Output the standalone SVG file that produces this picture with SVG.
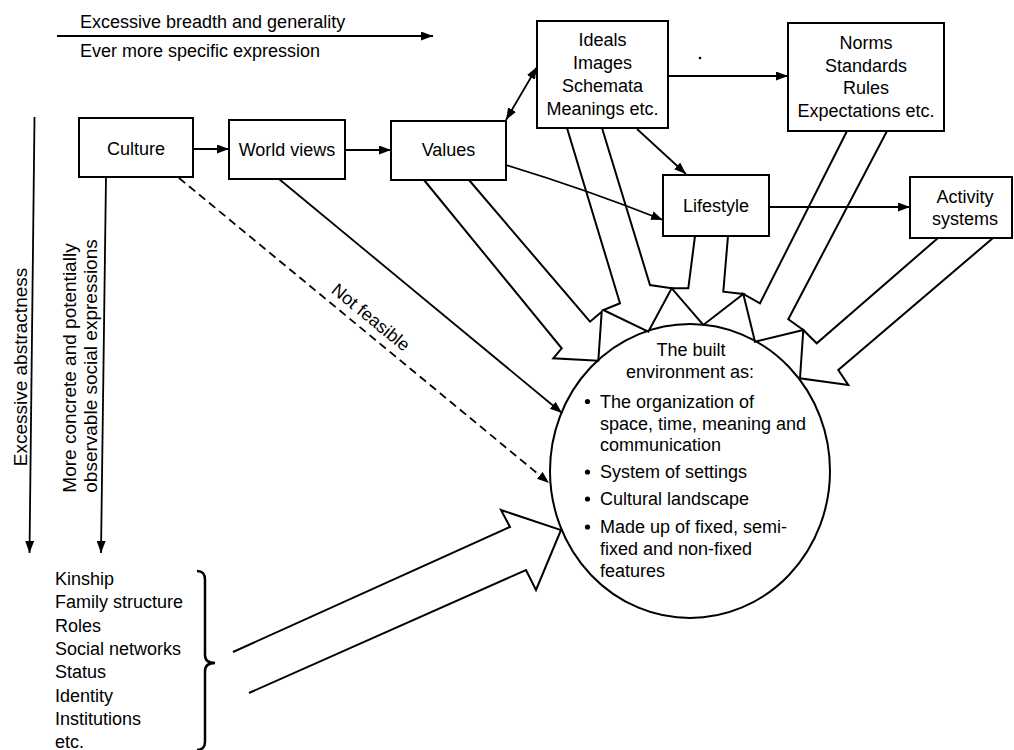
<svg xmlns="http://www.w3.org/2000/svg" width="1014" height="750" viewBox="0 0 1014 750">
<style>
.box{fill:#fff;stroke:#000;stroke-width:2}
.t{font-family:"Liberation Sans",Arial,Helvetica,sans-serif;font-size:18px;fill:#000}
.v{font-size:19px}
.m{text-anchor:middle}
.ln{stroke:#000;stroke-width:1.8;fill:none}
.big{stroke:#000;stroke-width:2;fill:none;stroke-linejoin:miter}
.dash{stroke-dasharray:8 5}
</style>
<defs>
<marker id="ah" markerUnits="userSpaceOnUse" markerWidth="13" markerHeight="10" refX="12" refY="4.5" orient="auto-start-reverse">
<path d="M0,0 L12,4.5 L0,9 Z" fill="#000"/>
</marker>
</defs>
<rect width="1014" height="750" fill="#fff"/>

<g id="labels">
<text class="t" x="80" y="28">Excessive breadth and generality</text>
<text class="t" x="80" y="57">Ever more specific expression</text>
<text class="t v m" transform="translate(27,367) rotate(-90)">Excessive abstractness</text>
<text class="t v m" transform="translate(76,368) rotate(-90)">More concrete and potentially</text>
<text class="t v m" transform="translate(97,366) rotate(-90)">observable social expressions</text>
<text class="t m" transform="translate(367,322) rotate(39.5)">Not feasible</text>
<circle cx="700" cy="58" r="1.3" fill="#000"/>
</g>

<g id="connectors">
<line class="ln" x1="57" y1="36" x2="433" y2="36" marker-end="url(#ah)"/>
<line class="ln" x1="34.5" y1="117" x2="29.5" y2="553" marker-end="url(#ah)"/>
<line class="ln" x1="106" y1="177" x2="101" y2="553" marker-end="url(#ah)"/>
<line class="ln" x1="193" y1="149" x2="229" y2="149" marker-end="url(#ah)"/>
<line class="ln" x1="345" y1="150" x2="391" y2="150" marker-end="url(#ah)"/>
<line class="ln" x1="506" y1="120" x2="537" y2="67" marker-start="url(#ah)" marker-end="url(#ah)"/>
<line class="ln" x1="668" y1="76" x2="788" y2="76" marker-end="url(#ah)"/>
<line class="ln" x1="637" y1="129" x2="686" y2="174" marker-end="url(#ah)"/>
<path class="ln" d="M506,165 Q585,189 663,220" marker-end="url(#ah)"/>
<line class="ln" x1="769" y1="207" x2="910" y2="207" marker-end="url(#ah)"/>
<line class="ln" x1="279" y1="179" x2="562" y2="413" marker-end="url(#ah)"/>
<line class="ln dash" x1="179" y1="178" x2="549" y2="483" marker-end="url(#ah)"/>
<polyline class="big" points="424,180 561.7,348.3 553.3,358.3 598.3,360.7 601.7,311.7 590,321.7 469,180"/>
<polyline class="big" points="567,128 620,303.3 603.3,310 648.3,331.7 671.7,288.3 650,285 602,128"/>
<polyline class="big" points="695,236 688.3,288.3 671.7,288.3 703.3,325 743.3,294 723.3,291.7 728,236"/>
<polyline class="big" points="847,131 760,303.3 743.3,294 755,341.7 803.3,330 788.3,319.3 887,131"/>
<polyline class="big" points="938,238 816.7,343.3 803.3,330 800,378.3 848.3,385 838.3,370 993,238"/>
<polyline class="big" points="233,652 510,527 501,510 561,530 536,590 526,570 249,693"/>
</g>

<g id="culture">
<rect class="box" x="79" y="118" width="114" height="59"/>
<text class="t m" x="136" y="155">Culture</text>
</g>
<g id="world-views">
<rect class="box" x="229" y="120" width="116" height="59"/>
<text class="t m" x="287" y="156">World views</text>
</g>
<g id="values">
<rect class="box" x="391" y="121" width="115" height="59"/>
<text class="t m" x="448.5" y="156">Values</text>
</g>
<g id="ideals">
<rect class="box" x="537" y="21" width="131" height="107"/>
<text class="t m" x="602.5" y="46">Ideals</text>
<text class="t m" x="602.5" y="68.5">Images</text>
<text class="t m" x="602.5" y="91.5">Schemata</text>
<text class="t m" x="602.5" y="114.5">Meanings etc.</text>
</g>
<g id="norms">
<rect class="box" x="788" y="23" width="156" height="108"/>
<text class="t m" x="866" y="48.5">Norms</text>
<text class="t m" x="866" y="71.5">Standards</text>
<text class="t m" x="866" y="94">Rules</text>
<text class="t m" x="866" y="117">Expectations etc.</text>
</g>
<g id="lifestyle">
<rect class="box" x="663" y="175" width="106" height="61"/>
<text class="t m" x="716" y="212">Lifestyle</text>
</g>
<g id="activity-systems">
<rect class="box" x="910" y="177" width="102" height="61"/>
<text class="t m" x="965" y="203">Activity</text>
<text class="t m" x="965" y="225">systems</text>
</g>
<g id="built-environment">
<ellipse cx="690" cy="471" rx="140" ry="147" fill="#fff" fill-opacity="0" stroke="#000" stroke-width="2"/>
<text class="t m" x="691" y="356">The built</text>
<text class="t m" x="690" y="378">environment as:</text>
<circle cx="587.5" cy="401.5" r="2.6" fill="#000"/>
<text class="t" x="600" y="407.5">The organization of</text>
<text class="t" x="600" y="429.5">space, time, meaning and</text>
<text class="t" x="600" y="451">communication</text>
<circle cx="587.5" cy="472" r="2.6" fill="#000"/>
<text class="t" x="600" y="478">System of settings</text>
<circle cx="587.5" cy="499" r="2.6" fill="#000"/>
<text class="t" x="600" y="505">Cultural landscape</text>
<circle cx="587.5" cy="527" r="2.6" fill="#000"/>
<text class="t" x="600" y="533">Made up of fixed, semi-</text>
<text class="t" x="600" y="555">fixed and non-fixed</text>
<text class="t" x="600" y="577">features</text>
</g>
<g id="social-expressions">
<text class="t" x="55" y="585">Kinship</text>
<text class="t" x="55" y="608">Family structure</text>
<text class="t" x="55" y="631.5">Roles</text>
<text class="t" x="55" y="655">Social networks</text>
<text class="t" x="55" y="678">Status</text>
<text class="t" x="55" y="701.5">Identity</text>
<text class="t" x="55" y="725">Institutions</text>
<text class="t" x="55" y="748">etc.</text>
<path d="M197,571 C203,571 205,574 205,580 L205,655 C205,660 208,663 215,663 C208,663 205,666 205,671 L205,742 C205,747 202,750 197,750" fill="none" stroke="#000" stroke-width="2.5"/>
</g>
</svg>
